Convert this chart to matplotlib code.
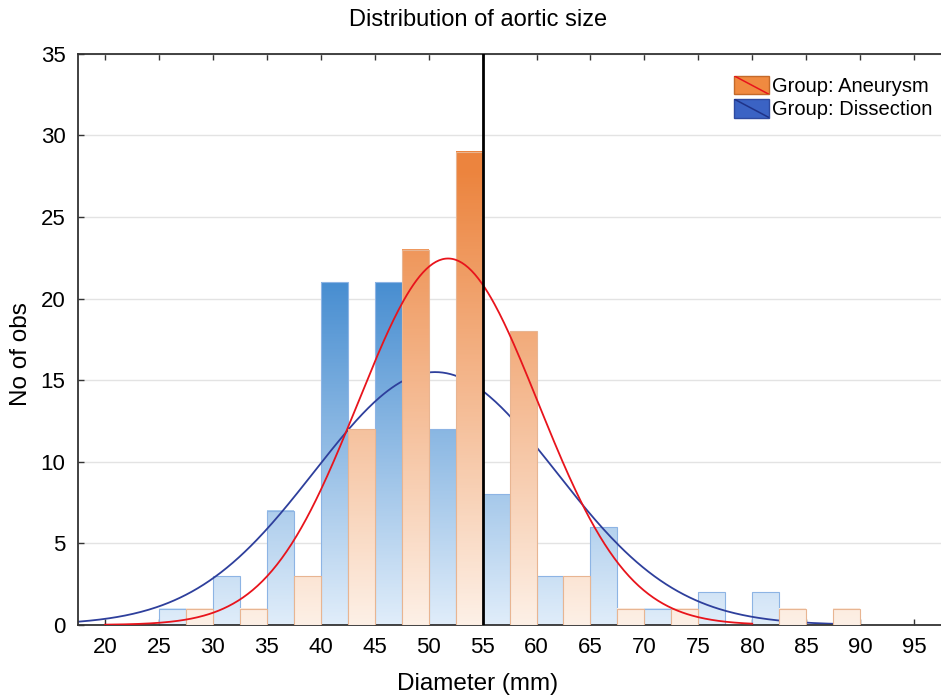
import numpy as np
import matplotlib
matplotlib.use("Agg")
import matplotlib.pyplot as plt
from matplotlib.colors import LinearSegmentedColormap
from matplotlib.patches import Rectangle, Patch
from matplotlib.lines import Line2D

plt.rcParams['font.family'] = ['Liberation Sans', 'DejaVu Sans']

# histogram bins (left edge, mm) and counts per group
bin_left = [25, 30, 35, 40, 45, 50, 55, 60, 65, 70, 75, 80, 85]
dissection = [1, 3, 7, 21, 21, 12, 8, 3, 6, 1, 2, 2, 0]
aneurysm = [1, 1, 3, 12, 23, 29, 18, 3, 1, 1, 0, 1, 1]
bin_width = 5

# fitted normal curves (mean, sd)
fit_dissection = (50.6, 11.2)
fit_aneurysm = (51.8, 8.35)

cut_off = 55

cmap_blue = LinearSegmentedColormap.from_list("b", ["#e0edfa", "#3a85cd"])
cmap_orange = LinearSegmentedColormap.from_list("o", ["#fdf0e6", "#ec843e"])


class DiagHandler:
    def __init__(self, face, edge, line):
        self.face, self.edge, self.line = face, edge, line

    def legend_artist(self, legend, orig_handle, fontsize, handlebox):
        x0, y0 = -handlebox.xdescent, -handlebox.ydescent
        w, h = handlebox.width, handlebox.height
        tr = handlebox.get_transform()
        r = Rectangle((x0, y0), w, h, facecolor=self.face, edgecolor=self.edge,
                      lw=1.0, transform=tr)
        l = Line2D([x0, x0 + w], [y0 + h, y0], color=self.line, lw=1.1,
                   solid_capstyle='butt', transform=tr)
        handlebox.add_artist(r)
        handlebox.add_artist(l)
        l.set_clip_path(r)
        return r


def gradient_bars(ax, bars, cmap, vmax, z):
    for b in bars:
        x0, w, hgt = b.get_x(), b.get_width(), b.get_height()
        if hgt <= 0:
            continue
        grad = np.linspace(0, hgt, 100).reshape(-1, 1)
        ax.imshow(grad, extent=(x0, x0 + w, 0, hgt), origin='lower', aspect='auto',
                  cmap=cmap, vmin=0, vmax=vmax, zorder=z, interpolation='bilinear')


def normal_curve(x, counts, fit):
    mu, sd = fit
    n = sum(counts)
    return n * bin_width / (sd * np.sqrt(2 * np.pi)) * np.exp(-0.5 * ((x - mu) / sd) ** 2)


fig = plt.figure(figsize=(9.41, 6.99), dpi=100)
ax = fig.add_axes([0.083, 0.106, 0.917, 0.817])

half = bin_width / 2
xb = np.array(bin_left, dtype=float)
bars_d = ax.bar(xb, dissection, width=half, align='edge', facecolor='none',
                edgecolor='#8db4e4', lw=0.8, zorder=1.5)
bars_a = ax.bar(xb + half, aneurysm, width=half, align='edge', facecolor='none',
                edgecolor='#e8b592', lw=0.8, zorder=3.5)
gradient_bars(ax, bars_d, cmap_blue, 23, 1)
gradient_bars(ax, bars_a, cmap_orange, 28, 3)

xd = np.linspace(17.5, 90, 400)
ax.plot(xd, normal_curve(xd, dissection, fit_dissection), color='#2e3f9c', lw=1.3, zorder=2)
xa = np.linspace(20, 80, 400)
ax.plot(xa, normal_curve(xa, aneurysm, fit_aneurysm), color='#e8141c', lw=1.3, zorder=4)

ax.axvline(cut_off, color='black', lw=2, zorder=5)

ax.set_xlim(17.5, 97.5)
ax.set_ylim(0, 35)
ax.set_xticks(np.arange(20, 100, 5))
ax.set_yticks(np.arange(0, 40, 5))
ax.yaxis.grid(True, color='#e3e3e3', lw=1)
ax.set_axisbelow(True)
ax.tick_params(direction='in', top=True, length=4, width=1, labelsize=16,
               color='#333333')
ax.tick_params(axis='x', pad=9)
ax.tick_params(axis='y', pad=9)
for s in ['left', 'bottom', 'top']:
    ax.spines[s].set_color('#333333')
    ax.spines[s].set_linewidth(1.3)
ax.spines['right'].set_visible(False)

ax.set_xlabel('Diameter (mm)', fontsize=17.5)
ax.xaxis.set_label_coords(0.4635, -0.085)
ax.set_ylabel('No of obs', fontsize=17.5)
ax.yaxis.set_label_coords(-0.053, 0.475)
fig.text(0.508, 0.971, 'Distribution of aortic size', ha='center', va='center', fontsize=17)

h_a = Patch(facecolor='#f08a40')
h_d = Patch(facecolor='#3a5fc0')
ax.legend([h_a, h_d], ['Group: Aneurysm', 'Group: Dissection'],
          handler_map={h_a: DiagHandler('#f08a40', '#c46a2a', '#e8141c'),
                       h_d: DiagHandler('#3b63c4', '#2e4aa0', '#1f3388')},
          loc='upper right', bbox_to_anchor=(1.004, 0.983), frameon=False,
          fontsize=14.5, handlelength=1.75, handleheight=1.05, labelspacing=0.15,
          handletextpad=0.15, borderaxespad=0.2)

fig.savefig('out.png', dpi=100)
